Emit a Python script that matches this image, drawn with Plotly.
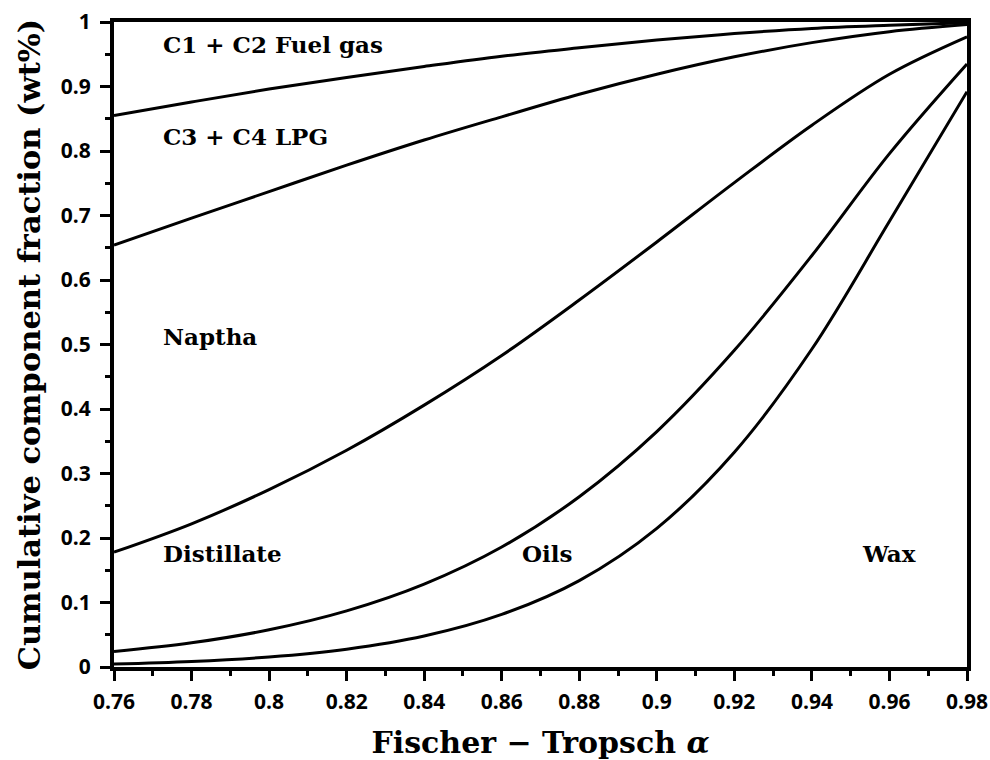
import plotly.graph_objects as go

# Chain-growth probability (x axis)
alpha = [0.76, 0.78, 0.80, 0.82, 0.84, 0.86, 0.88, 0.90, 0.92, 0.94, 0.96, 0.98]

# Cumulative fraction boundaries between product cuts
fuel_gas_top = [0.855, 0.876, 0.896, 0.914, 0.931, 0.947, 0.960, 0.972, 0.982, 0.990, 0.995, 0.999]
lpg_top = [0.654, 0.696, 0.737, 0.778, 0.817, 0.853, 0.888, 0.919, 0.946, 0.968, 0.985, 0.996]
naptha_bottom = [0.178, 0.222, 0.275, 0.336, 0.406, 0.483, 0.569, 0.659, 0.751, 0.840, 0.919, 0.977]
distillate_bottom = [0.024, 0.0375, 0.0577, 0.087, 0.1285, 0.186, 0.264, 0.365, 0.491, 0.638, 0.796, 0.935]
oils_bottom = [0.0045, 0.0085, 0.0155, 0.0276, 0.048, 0.0815, 0.134, 0.215, 0.333, 0.493, 0.691, 0.892]

curves = [fuel_gas_top, lpg_top, naptha_bottom, distillate_bottom, oils_bottom]

# Region labels and their anchor points
region_names = ["C1 + C2 Fuel gas", "C3 + C4 LPG", "Naptha", "Distillate", "Oils", "Wax"]
label_x = [0.7721, 0.7721, 0.7721, 0.7721, 0.8717, 0.9599]
label_y = [0.965, 0.822, 0.513, 0.176, 0.176, 0.176]
label_anchor = ["left", "left", "left", "left", "center", "center"]

x_ticks = [0.76, 0.78, 0.80, 0.82, 0.84, 0.86, 0.88, 0.90, 0.92, 0.94, 0.96, 0.98]
y_ticks = [0, 0.1, 0.2, 0.3, 0.4, 0.5, 0.6, 0.7, 0.8, 0.9, 1]

SERIF = "DejaVu Serif"
SANS = "Open Sans"

fig = go.Figure()
for c in curves:
    fig.add_trace(go.Scatter(
        x=alpha, y=c, mode="lines",
        line=dict(color="black", width=3, shape="spline", smoothing=1.0),
        showlegend=False, hoverinfo="skip",
    ))

for name, lx, ly, anc in zip(region_names, label_x, label_y, label_anchor):
    fig.add_annotation(
        x=lx, y=ly, xref="x", yref="y", text=name, showarrow=False,
        xanchor=anc, yanchor="middle",
        font=dict(family=SERIF, size=23, color="black", weight="bold"),
    )

axis_common = dict(
    showline=True, linecolor="black", linewidth=4, mirror=True,
    ticks="outside", ticklen=10, tickwidth=3, tickcolor="black",
    showgrid=False, zeroline=False, automargin=False,
    tickfont=dict(family=SANS, size=21, color="black", weight="bold"),
)

fig.update_xaxes(
    range=[0.76, 0.98], tickvals=x_ticks,
    ticktext=[f"{v:g}" for v in x_ticks],
    ticklabelstandoff=3,
    minor=dict(ticks="outside", ticklen=5, tickwidth=3, tickcolor="black", dtick=0.01),
    title=dict(text="Fischer − Tropsch <i>α</i>", standoff=24,
               font=dict(family=SERIF, size=30, color="black", weight="bold")),
    **axis_common,
)
fig.update_yaxes(
    range=[0, 1], tickvals=y_ticks,
    ticktext=[f"{v:g}" for v in y_ticks],
    ticklabelstandoff=5,
    minor=dict(ticks="outside", ticklen=5, tickwidth=3, tickcolor="black", dtick=0.05),
    title=dict(text="Cumulative component fraction (wt%)", standoff=12,
               font=dict(family=SERIF, size=30.5, color="black", weight="bold")),
    **axis_common,
)

fig.update_layout(
    width=990, height=760,
    margin=dict(l=114, r=23, t=22, b=93),
    paper_bgcolor="white", plot_bgcolor="white",
)

fig.write_html("out.html")
